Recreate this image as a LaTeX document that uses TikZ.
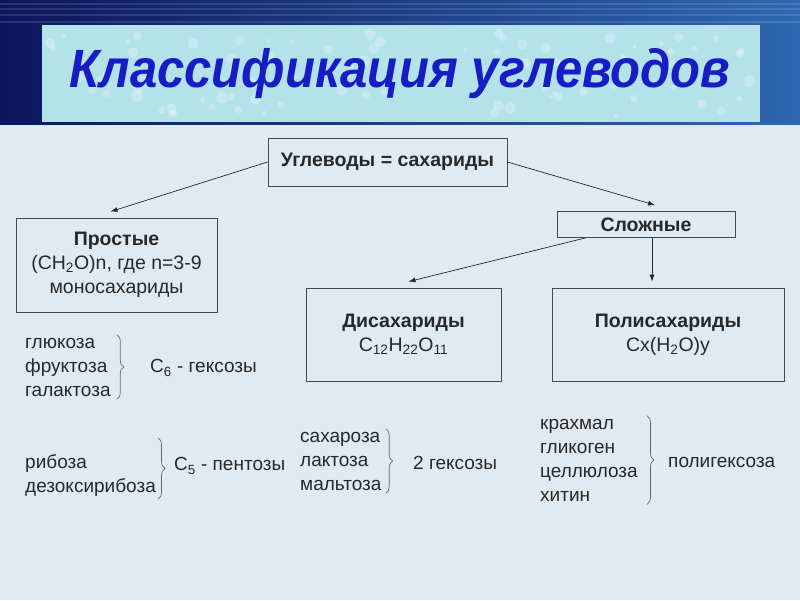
\documentclass[tikz,border=0pt]{standalone}
\usepackage{fontspec}
\setmainfont{Liberation Sans}
\usetikzlibrary{decorations.pathreplacing,arrows.meta}
\definecolor{icebg}{RGB}{223,234,243}
\definecolor{panelbg}{RGB}{180,226,234}
\definecolor{navyband}{RGB}{12,22,92}
\definecolor{blueband}{RGB}{46,104,176}
\definecolor{titleblue}{RGB}{24,28,196}
\definecolor{inkgray}{RGB}{40,40,40}

\begin{document}
\begin{tikzpicture}[x=1pt,y=-1pt,
	box/.style={draw=inkgray!85,line width=0.8pt,inner sep=0pt,align=center,text=inkgray,font=\fontsize{19.5}{24}\selectfont},
	list/.style={align=left,anchor=west,inner sep=0pt,text=inkgray,font=\fontsize{19}{24}\selectfont},
	arr/.style={draw=inkgray,line width=0.7pt,-{Latex[length=7pt,width=5pt]}},
	brc/.style={draw=inkgray!70,line width=0.7pt,decorate,decoration={brace,amplitude=7pt}}]
				\useasboundingbox (0,0) rectangle (800,600);
				% background and title panel
				\fill[icebg] (0,122) rectangle (800,600);
				\shade[left color=navyband,right color=blueband] (0,0) rectangle (800,124);
				\foreach \s in {4,9,15,22} {
					\draw[white,opacity=0.12,line width=1.5pt] (0,\s) -- (800,\s);
				}
				\fill[panelbg] (42,25) rectangle (760,122);
				\pgfmathsetseed{7}
				\foreach \d in {1,...,90} {
					\pgfmathsetmacro{\dx}{50+700*rnd}
					\pgfmathsetmacro{\dy}{32+84*rnd}
					\pgfmathsetmacro{\dr}{2+4*rnd}
					\fill[white,opacity=0.25] (\dx,\dy) circle (\dr);
				}
				\node[titleblue,font=\fontsize{49}{52}\bfseries\itshape] (title) at (400,74) {\scalebox{1}[1.1]{Классификация углеводов}};
				% boxes
				\node[box,minimum width=239,minimum height=48,font=\fontsize{19.5}{24}\bfseries] (root) at (387.5,162) {Углеводы = сахариды};
				\node[box,minimum width=201,minimum height=94] (prost) at (116.5,265) {\textbf{Простые}\\(CH\textsubscript{2}O)n, где n=3-9\\моносахариды};
				\node[box,minimum width=178,minimum height=26,font=\fontsize{19.5}{24}\bfseries] (slozh) at (646,224.5) {Сложные};
				\node[box,minimum width=195,minimum height=93] (di) at (403.5,334.5) {\textbf{Дисахариды}\\C\textsubscript{12}H\textsubscript{22}O\textsubscript{11}};
				\node[box,minimum width=232,minimum height=93] (poly) at (668,334.5) {\textbf{Полисахариды}\\Cx(H\textsubscript{2}O)y};
				% arrows
				\draw[arr] (root.west) -- ([xshift=-6pt,yshift=6pt]prost.north);
				\draw[arr] (root.east) -- ([xshift=9pt,yshift=6pt]slozh.north);
				\draw[arr] ([xshift=29pt]slozh.south west) -- ([xshift=5pt,yshift=6pt]di.north);
				\draw[arr] ([xshift=6pt]slozh.south) -- ([xshift=6pt,yshift=6pt]slozh.south |- poly.north);
				% lists with braces
				\node[list] (hexlist) at (25,367) {глюкоза\\фруктоза\\галактоза};
				\draw[brc] ([xshift=6pt,yshift=3pt]hexlist.north east) -- ([xshift=6pt,yshift=-3pt]hexlist.south east);
				\node[list] (hexname) at (150,368) {C\textsubscript{6} - гексозы};
				\node[list] (penlist) at (25,475) {рибоза\\дезоксирибоза};
				\draw[brc] ([xshift=2pt,yshift=16pt]penlist.north east) -- ([xshift=2pt,yshift=-3pt]penlist.south east);
				\node[list] (penname) at (174,466) {C\textsubscript{5} - пентозы};
				\node[list] (dilist) at (300,461) {сахароза\\лактоза\\мальтоза};
				\draw[brc] ([xshift=4pt,yshift=3pt]dilist.north east) -- ([xshift=4pt,yshift=-3pt]dilist.south east);
				\node[list] (diname) at (413,463) {2 гексозы};
				\node[list] (polylist) at (540,460) {крахмал\\гликоген\\целлюлоза\\хитин};
				\draw[brc] ([xshift=9pt,yshift=3pt]polylist.north east) -- ([xshift=9pt,yshift=-3pt]polylist.south east);
				\node[list] (polyname) at (668,462) {полигексоза};
			\end{tikzpicture}
\end{document}
